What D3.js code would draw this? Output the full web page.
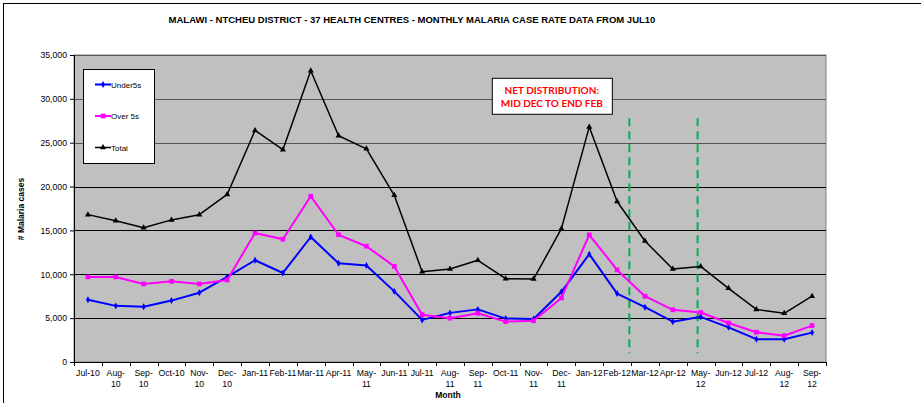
<!DOCTYPE html>
<html>
<head>
<meta charset="utf-8">
<script src="https://cdn.jsdelivr.net/npm/d3@7"></script>
<style>
    body { margin: 0; background: #fff; }
    svg { display: block; font-family: "Liberation Sans", Arial, sans-serif; }
</style>
</head>
<body>
<div id="chart"></div>
<script>
// defining data
const months = ['Jul-10','Aug-10','Sep-10','Oct-10','Nov-10','Dec-10',
    'Jan-11','Feb-11','Mar-11','Apr-11','May-11','Jun-11','Jul-11','Aug-11','Sep-11','Oct-11','Nov-11','Dec-11',
    'Jan-12','Feb-12','Mar-12','Apr-12','May-12','Jun-12','Jul-12','Aug-12','Sep-12'];

const under5s = [7100,6400,6300,7000,7900,9700,
    11600,10150,14250,11250,11000,8050,4800,5600,6000,4950,4900,8000,
    12300,7800,6250,4600,5150,3950,2600,2600,3350];

const over5s = [9700,9700,8900,9200,8900,9350,
    14700,14000,18900,14500,13200,10900,5400,5000,5550,4600,4700,7300,
    14500,10500,7500,5950,5650,4450,3400,3000,4150];

const total = [16800,16100,15300,16200,16800,19100,
    26400,24200,33200,25800,24300,19000,10300,10600,11600,9500,9450,15200,
    26800,18300,13800,10600,10900,8400,6000,5550,7500];

const yTicks = [0,5000,10000,15000,20000,25000,30000,35000];

// net distribution markers, in month-index units (0 = start of Jul-10)
const netLines = [19.94, 22.39];
const netLineRange = [1000, 27800];
const netNote = ['NET DISTRIBUTION:', 'MID DEC TO END FEB'];

// months whose labels wrap onto two lines
const wrapMonths = ['Aug','Sep','Nov','Dec','May'];

const series = [
    {name:'Under5s', values:under5s, color:'#0000FF', width:2, marker:'diamond'},
    {name:'Over 5s', values:over5s, color:'#FF00FF', width:2, marker:'square'},
    {name:'Total', values:total, color:'#000000', width:1.5, marker:'triangle'}
];

// setup/layout
const W = 921, H = 403;
const plot = {l:74, r:826, t:55, b:362};

const svg = d3.select('#chart')
    .append('svg')
    .attr('width', W)
    .attr('height', H);

// outer chart frame (extends off the right/bottom edge)
svg.append('rect')
    .attr('x', 3.5).attr('y', 3.5)
    .attr('width', W + 20).attr('height', H + 20)
    .style('fill', '#fff')
    .style('stroke', '#000')
    .style('stroke-width', 1);

// scales
const x = d3.scaleBand()
    .domain(months)
    .range([plot.l, plot.r]);

const xIdx = d3.scaleLinear()
    .domain([0, months.length])
    .range([plot.l, plot.r]);

const y = d3.scaleLinear()
    .domain([0, 35000])
    .range([plot.b, plot.t]);

const cx = d => x(d) + x.bandwidth() / 2;

// plot background
svg.append('rect')
    .attr('x', plot.l).attr('y', plot.t)
    .attr('width', plot.r - plot.l).attr('height', plot.b - plot.t)
    .style('fill', '#C0C0C0')
    .style('stroke', '#808080')
    .style('stroke-width', 1);

// gridlines
svg.append('g')
    .selectAll('line')
    .data(yTicks.filter(d => d > 0))
    .enter()
    .append('line')
    .attr('x1', plot.l).attr('x2', plot.r)
    .attr('y1', d => Math.round(y(d)) + 0.5)
    .attr('y2', d => Math.round(y(d)) + 0.5)
    .style('stroke', d => d >= 25000 ? '#555' : '#000')
    .style('stroke-width', 1);

// y axis
const yAxis = svg.append('g')
    .attr('transform', `translate(${plot.l},0)`)
    .call(d3.axisLeft(y).tickValues(yTicks).tickSize(4).tickPadding(3).tickFormat(d3.format(',')));
yAxis.select('.domain').style('stroke', '#000');
yAxis.selectAll('.tick line').style('stroke', '#000');
yAxis.selectAll('text')
    .style('font-size', '8.7px')
    .style('fill', '#000');

// x axis
const xAxis = svg.append('g')
    .attr('transform', `translate(0,${plot.b})`)
    .call(d3.axisBottom(x).tickSize(0).tickFormat(''));
xAxis.select('.domain').style('stroke', '#000');

// x ticks at band boundaries
xAxis.selectAll('.bound')
    .data(d3.range(months.length + 1))
    .enter()
    .append('line')
    .classed('bound', true)
    .attr('x1', d => Math.round(xIdx(d)) + 0.5)
    .attr('x2', d => Math.round(xIdx(d)) + 0.5)
    .attr('y1', 0).attr('y2', 4)
    .style('stroke', '#000');

// x labels, wrapped like the spreadsheet does
const xLabels = svg.append('g')
    .selectAll('text')
    .data(months)
    .enter()
    .append('text')
    .attr('x', d => cx(d))
    .attr('y', 376)
    .attr('text-anchor', 'middle')
    .style('font-size', '8.7px')
    .style('fill', '#000');

xLabels.each(function(d) {
    const el = d3.select(this);
    const parts = d.split('-');
    if (wrapMonths.indexOf(parts[0]) >= 0) {
        el.append('tspan').attr('x', cx(d)).text(parts[0] + '-');
        el.append('tspan').attr('x', cx(d)).attr('dy', 10.5).text(parts[1]);
    } else {
        el.text(d);
    }
});

// axis titles (nudged below the wrapped Aug-11 label)
svg.append('text')
    .attr('x', 448).attr('y', 398)
    .attr('text-anchor', 'middle')
    .style('font-size', '8.5px')
    .style('font-weight', 'bold')
    .text('Month');

svg.append('text')
    .attr('transform', 'translate(24,209) rotate(-90)')
    .attr('text-anchor', 'middle')
    .style('font-size', '8.5px')
    .style('font-weight', 'bold')
    .text('# Malaria cases');

// title
svg.append('text')
    .attr('x', 412).attr('y', 23)
    .attr('text-anchor', 'middle')
    .style('font-size', '9.5px')
    .style('font-weight', 'bold')
    .text('MALAWI - NTCHEU DISTRICT - 37 HEALTH CENTRES - MONTHLY MALARIA CASE RATE DATA FROM JUL10');

// net distribution dashed lines
svg.append('g')
    .selectAll('line')
    .data(netLines)
    .enter()
    .append('line')
    .attr('x1', d => xIdx(d)).attr('x2', d => xIdx(d))
    .attr('y1', y(netLineRange[1])).attr('y2', y(netLineRange[0]))
    .style('stroke', '#00B050')
    .style('stroke-width', 2)
    .style('stroke-dasharray', '8,5');

// marker shapes
const markerPath = (type) => {
    if (type === 'diamond') return d3.symbol().type(d3.symbolDiamond).size(14)();
    if (type === 'square') return d3.symbol().type(d3.symbolSquare).size(22)();
    return d3.symbol().type(d3.symbolTriangle).size(16)();
};

// lines
const line = d3.line()
    .x((d, i) => cx(months[i]))
    .y(d => y(d));

const seriesG = svg.append('g')
    .selectAll('.series')
    .data(series)
    .enter()
    .append('g')
    .classed('series', true);

seriesG.append('path')
    .attr('d', d => line(d.values))
    .style('fill', 'none')
    .style('stroke', d => d.color)
    .style('stroke-width', d => d.width)
    .style('stroke-linejoin', 'round');

seriesG.each(function(s) {
    d3.select(this).selectAll('.pt')
        .data(s.values)
        .enter()
        .append('path')
        .classed('pt', true)
        .attr('transform', (d, i) => `translate(${cx(months[i])},${y(d)})`)
        .attr('d', markerPath(s.marker))
        .style('fill', s.color);
});

// annotation box
const note = svg.append('g')
    .attr('transform', `translate(${xIdx(15)},${y(32400)})`);
note.append('rect')
    .attr('x', 0.5).attr('y', 0.5)
    .attr('width', xIdx(19.31) - xIdx(15)).attr('height', y(28300) - y(32400))
    .style('fill', '#fff')
    .style('stroke', '#000');
note.selectAll('text')
    .data(netNote)
    .enter()
    .append('text')
    .attr('x', (xIdx(19.31) - xIdx(15)) / 2)
    .attr('y', (d, i) => 16.5 + i * 13)
    .attr('text-anchor', 'middle')
    .style('font-family', 'Lato, sans-serif')
    .style('font-size', '10px')
    .style('font-weight', 'bold')
    .style('fill', '#FF0000')
    .text(d => d);

// legend
const legend = svg.append('g')
    .attr('transform', 'translate(83,69)');
legend.append('rect')
    .attr('x', 0.5).attr('y', 0.5)
    .attr('width', 71).attr('height', 94)
    .style('fill', '#fff')
    .style('stroke', '#000');

const legendItem = legend.selectAll('.item')
    .data(series)
    .enter()
    .append('g')
    .classed('item', true)
    .attr('transform', (d, i) => `translate(0,${15.5 + i * 31.5})`);

legendItem.append('line')
    .attr('x1', 12).attr('x2', 28)
    .style('stroke', d => d.color)
    .style('stroke-width', d => d.width);

legendItem.append('path')
    .attr('transform', 'translate(20,0)')
    .attr('d', d => markerPath(d.marker))
    .style('fill', d => d.color);

legendItem.append('text')
    .attr('x', 28)
    .attr('y', 3)
    .style('font-size', '8px')
    .text(d => d.name);
</script>
</body>
</html>
